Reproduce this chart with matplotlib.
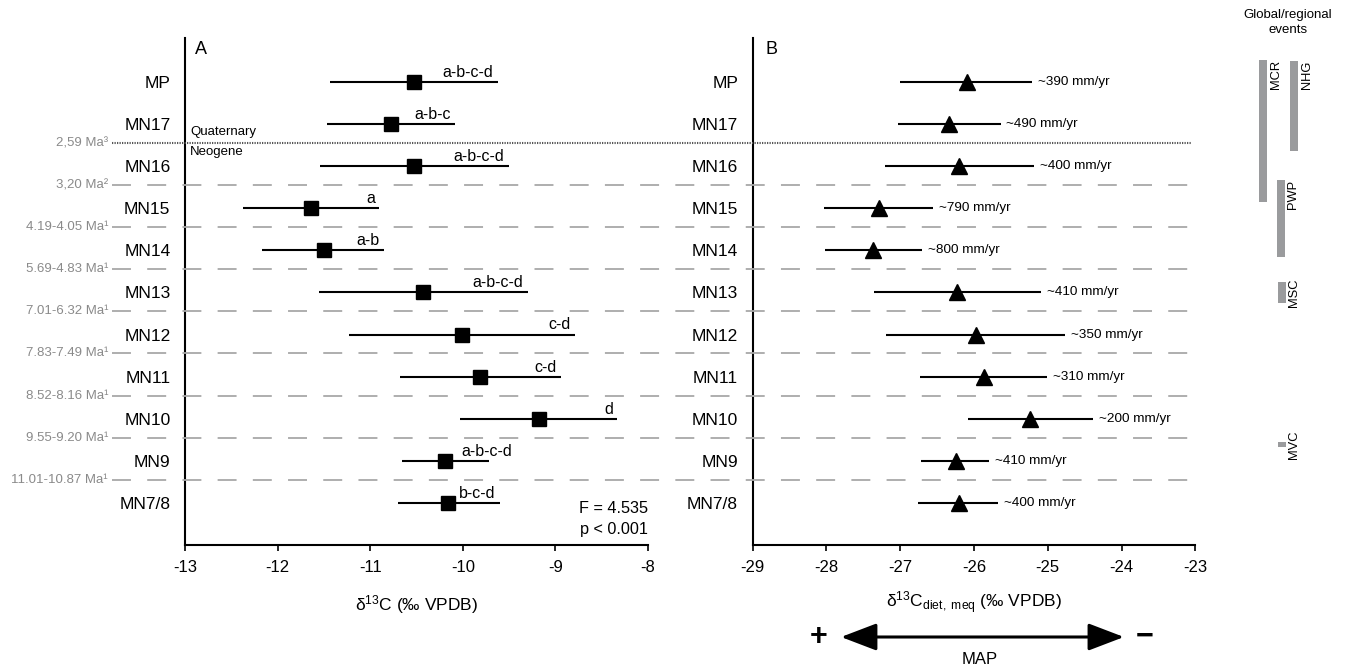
import matplotlib
matplotlib.use("Agg")
import matplotlib.pyplot as plt
import matplotlib.transforms as mtransforms
from matplotlib.lines import Line2D
from matplotlib.patches import FancyArrowPatch

plt.rcParams['font.family'] = ['Liberation Sans', 'DejaVu Sans']
plt.rcParams['mathtext.fontset'] = 'custom'
plt.rcParams['mathtext.rm'] = 'Liberation Sans'
plt.rcParams['mathtext.it'] = 'Liberation Sans:italic'
plt.rcParams['axes.unicode_minus'] = False

# ---- data ----
zones = ["MP", "MN17", "MN16", "MN15", "MN14", "MN13", "MN12", "MN11", "MN10", "MN9", "MN7/8"]

# panel A: enamel d13C (mean and range)
a_mean = [-10.53, -10.78, -10.53, -11.64, -11.50, -10.43, -10.01, -9.81, -9.18, -10.19, -10.16]
a_low  = [-11.43, -11.47, -11.54, -12.37, -12.17, -11.55, -11.23, -10.68, -10.03, -10.66, -10.70]
a_high = [-9.62, -10.08, -9.50, -10.90, -10.85, -9.30, -8.79, -8.94, -8.33, -9.72, -9.60]
a_groups = ["a-b-c-d", "a-b-c", "a-b-c-d", "a", "a-b", "a-b-c-d", "c-d", "c-d", "d", "a-b-c-d", "b-c-d"]

# panel B: diet d13C (meq) and mean annual precipitation
b_mean = [-26.10, -26.34, -26.20, -27.29, -27.37, -26.23, -25.97, -25.87, -25.24, -26.25, -26.21]
b_low  = [-27.00, -27.03, -27.21, -28.03, -28.02, -27.36, -27.19, -26.73, -26.08, -26.72, -26.76]
b_high = [-25.21, -25.64, -25.18, -26.56, -26.70, -25.09, -24.77, -25.01, -24.39, -25.79, -25.67]
map_mm = [390, 490, 400, 790, 800, 410, 350, 310, 200, 410, 400]

# zone boundaries (ages)
ages = ["2,59 Ma³", "3,20 Ma²", "4.19-4.05 Ma¹", "5.69-4.83 Ma¹", "7.01-6.32 Ma¹",
        "7.83-7.49 Ma¹", "8.52-8.16 Ma¹", "9.55-9.20 Ma¹", "11.01-10.87 Ma¹"]

# global / regional events (start, end in zone-row units)
events = ["MCR", "NHG", "PWP", "MSC", "MVC"]
event_start = [-0.52, -0.50, 2.33, 4.75, 8.55]
event_end   = [2.85, 1.64, 4.16, 5.25, 8.67]
event_col   = [1.9, 6.3, 4.4, 4.6, 4.6]

rows = list(range(len(zones)))
bounds = [r + 0.45 for r in rows[1:10]]

fig = plt.figure(figsize=(13.46, 6.72), dpi=100)
W, H = 1346.0, 672.0
bot = 1 - 545 / H
top = 1 - 38 / H
axA = fig.add_axes([185 / W, bot, 463 / W, top - bot])
axB = fig.add_axes([752.7 / W, bot, 442.6 / W, top - bot])
axE = fig.add_axes([1250 / W, bot, 70 / W, top - bot], sharey=axA)

for ax in (axA, axB):
    ax.set_facecolor('none')
    ax.spines['top'].set_visible(False)
    ax.spines['right'].set_visible(False)
    ax.spines['left'].set_linewidth(1.5)
    ax.spines['bottom'].set_linewidth(1.5)
    ax.set_ylim(11.0, -1.045)
    ax.set_yticks(rows)
    ax.set_yticklabels(zones, fontsize=12.5)
    ax.tick_params(axis='y', length=0, pad=10.5)
    ax.tick_params(axis='x', length=4, width=1.2, pad=6.5, labelsize=12)

# panel A
axA.errorbar(a_mean, rows,
             xerr=[[m - l for m, l in zip(a_mean, a_low)], [h - m for m, h in zip(a_mean, a_high)]],
             fmt='s', color='k', ms=10.5, elinewidth=1.5, capsize=0, zorder=3)
for r, h, g in zip(rows, a_high, a_groups):
    xr = h - 0.05
    if zones[r] == "MN9":
        xr = -9.47   # label sticks out past the bar here
    axA.text(xr, r - 0.12, g, ha='right', va='baseline', fontsize=11.5)
axA.set_xlim(-13, -8)
axA.set_xticks(range(-13, -7))
axA.set_xlabel(r'δ$^{13}$C (‰ VPDB)', fontsize=12.5, labelpad=13)
axA.text(0.022, 0.978, 'A', transform=axA.transAxes, fontsize=13, va='center', ha='left')
ytrans = mtransforms.blended_transform_factory(axA.transAxes, axA.transData)
axA.text(1.0, 10.14, 'F = 4.535', ha='right', va='center', fontsize=11.7, transform=ytrans)
axA.text(1.0, 10.64, 'p < 0.001', ha='right', va='center', fontsize=11.7, transform=ytrans)
ftrans = mtransforms.blended_transform_factory(fig.transFigure, axA.transData)
axA.text(190 / W, 1.18, 'Quaternary', fontsize=9.5, va='center', ha='left', transform=ftrans)
axA.text(190 / W, 1.66, 'Neogene', fontsize=9.5, va='center', ha='left', transform=ftrans)

# panel B
axB.errorbar(b_mean, rows,
             xerr=[[m - l for m, l in zip(b_mean, b_low)], [h - m for m, h in zip(b_mean, b_high)]],
             fmt='^', color='k', ms=12, elinewidth=1.5, capsize=0, zorder=3)
for r, h, p in zip(rows, b_high, map_mm):
    axB.text(h + 0.08, r, '~%d mm/yr' % p, ha='left', va='center', fontsize=9.7)
axB.set_xlim(-29, -23)
axB.set_xticks(range(-29, -22))
axB.set_xlabel(r'δ$^{13}$C$_{\mathregular{diet,\ meq}}$ (‰ VPDB)', fontsize=12.5, labelpad=11)
axB.text(0.028, 0.978, 'B', transform=axB.transAxes, fontsize=13, va='center', ha='left')

# zone boundaries spanning both panels
for i, (y, lab) in enumerate(zip(bounds, ages)):
    if i == 0:
        ln = Line2D([112 / W, 1192 / W], [y, y], transform=ftrans, color='#555555',
                    lw=1.5, linestyle=(0, (0.6, 0.6)), zorder=1)
    else:
        ln = Line2D([112 / W, 1192 / W], [y, y], transform=ftrans, color='#a8a8a8',
                    lw=1.3, linestyle=(0, (10.5, 9)), zorder=1)
    fig.add_artist(ln)
    fig.text(108 / W, y, lab, transform=ftrans, ha='right', va='center',
             fontsize=9.5, color='#8a8a8a')

# events column
axE.axis('off')
axE.set_xlim(0, 10)
axE.bar(event_col, [e - s for s, e in zip(event_start, event_end)], bottom=event_start,
        width=1.15, color='#9a9b9d', edgecolor='none')
for name, c, s, e in zip(events, event_col, event_start, event_end):
    if e - s > 0.8:
        axE.text(c + 1.8, s, name, rotation=90, ha='center', va='top', fontsize=9.3)
    else:
        axE.text(c + 1.7, (s + e) / 2, name, rotation=90, ha='center', va='center', fontsize=9.3)
fig.text(1288 / W, 1 - 22.5 / H, 'Global/regional\nevents', ha='center', va='center',
         fontsize=9.5, linespacing=1.25)

# MAP arrow below panel B
btrans = mtransforms.blended_transform_factory(axB.transData, fig.transFigure)
arr = FancyArrowPatch((-27.84, 1 - 637 / H), (-23.93, 1 - 637 / H), transform=btrans,
                      arrowstyle='<|-|>,head_length=1.1,head_width=0.42', mutation_scale=20,
                      color='k', lw=2.2)
fig.add_artist(arr)
fig.text(819 / W, 1 - 637 / H, '+', ha='center', va='center', fontsize=22, fontweight='bold')
fig.text(1145 / W, 1 - 637 / H, '−', ha='center', va='center', fontsize=22, fontweight='bold')
fig.text(980 / W, 1 - 660 / H, 'MAP', ha='center', va='center', fontsize=12)

fig.savefig('out.png', dpi=100)
